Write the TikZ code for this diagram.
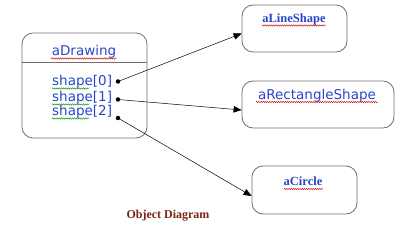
\documentclass[tikz,border=0pt]{standalone}
\usepackage{fontspec}
\usetikzlibrary{arrows.meta,decorations.pathmorphing}
\newfontfamily\verd{DejaVu Sans}
\newfontfamily\tms{Liberation Serif}
\definecolor{txtblue}{HTML}{2747C8}
\definecolor{boxgray}{HTML}{6E6E6E}
\definecolor{capred}{HTML}{7A2414}
\tikzset{
  objbox/.style={draw=boxgray, line width=0.8pt, rounded corners=11pt, inner sep=0pt},
  sanslbl/.style={font=\verd\fontsize{13.5}{15}\selectfont, text=txtblue, inner sep=0pt},
  seriflbl/.style={font=\tms\bfseries\fontsize{12.5}{14}\selectfont, text=txtblue, inner sep=0pt},
  squig/.style={draw=red!80!black, line width=0.4pt, decorate, decoration={snake, amplitude=0.7pt, segment length=2.2pt}},
  gsquig/.style={draw=green!55!black, line width=0.4pt, decorate, decoration={snake, amplitude=0.7pt, segment length=2.2pt}},
  dotnode/.style={circle, fill=black, draw=none, inner sep=0pt, minimum size=4.5pt},
  link/.style={draw=black, line width=0.5pt, -{Triangle[length=8pt,width=6.5pt]}}
}
\begin{document}
\begin{tikzpicture}[x=1pt,y=-1pt]
\useasboundingbox (0,0) rectangle (400,235);
% aDrawing box
\node[objbox, minimum width=125pt, minimum height=105pt] (drawing) at (84.5,85.5) {};
\draw[boxgray, line width=0.8pt] (22,62) -- (147,62);
\node[sanslbl, anchor=base] (dname) at (84,56) {aDrawing};
\node[sanslbl, anchor=base west] (s0) at (52,86) {shape[0]};
\node[sanslbl, anchor=base west] (s1) at (52,102) {shape[1]};
\node[sanslbl, anchor=base west] (s2) at (52,116) {shape[2]};
\draw[squig] (51,58.5) -- (117,58.5);
\draw[gsquig] (52,88.5) -- (89,88.5);
\draw[gsquig] (52,104.5) -- (89,104.5);
\draw[gsquig] (52,118.5) -- (89,118.5);
% target boxes
\node[objbox, minimum width=105pt, minimum height=47pt] (line) at (294.5,28.5) {};
\node[seriflbl, anchor=base] (lname) at (294,23) {aLineShape};
\draw[squig] (262,25.5) -- (326,25.5);
\node[objbox, minimum width=152pt, minimum height=47pt] (rect) at (318,104.5) {};
\node[sanslbl, anchor=base] (rname) at (317,99.5) {aRectangleShape};
\draw[squig] (256,102) -- (378,102);
\node[objbox, minimum width=105pt, minimum height=48pt] (circ) at (304.5,190) {};
\node[seriflbl, anchor=base] (cname) at (303,186) {aCircle};
\draw[squig] (284,189) -- (323,189);
% connectors
\node[dotnode] (p0) at (118,81.5) {};
\node[dotnode] (p1) at (118,99.5) {};
\node[dotnode] (p2) at (118,118) {};
\draw[link] (p0.center) -- ([yshift=-5pt]line.west);
\draw[link] (p1.center) -- ([yshift=-5.5pt]rect.west);
\draw[link] (p2.center) -- ([yshift=-6pt]circ.west);
% caption
\node[font=\tms\bfseries\fontsize{12}{14}\selectfont, text=capred, inner sep=0pt, anchor=base] (cap) at (168,219) {Object Diagram};
\end{tikzpicture}
\end{document}
